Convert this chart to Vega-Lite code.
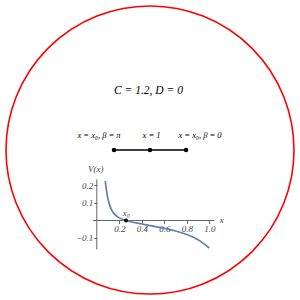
{
  "$schema": "https://vega.github.io/schema/vega-lite/v6.json",
  "width": 300,
  "height": 300,
  "padding": 0,
  "autosize": "none",
  "background": "white",
  "config": {"view": {"stroke": null}},
  "datasets": {
    "ring": [{"cx": 150, "cy": 150}],
    "segment": [{"xa": 114, "xb": 186, "y": 150}],
    "nodes": [
      {"x": 114, "y": 150, "lx": 99, "label": "x = x₀, β = π"},
      {"x": 150, "y": 150, "lx": 151.5, "label": "x = 1"},
      {"x": 186, "y": 150, "lx": 200, "label": "x = x₀, β = 0"}
    ],
    "title": [{"x": 148.5, "y": 91, "text": "C = 1.2,  D = 0"}],
    "curve": [
      {"x": 0.075, "v": 0.226},
      {"x": 0.08, "v": 0.2},
      {"x": 0.09, "v": 0.155},
      {"x": 0.1, "v": 0.122},
      {"x": 0.11, "v": 0.097},
      {"x": 0.12, "v": 0.078},
      {"x": 0.135, "v": 0.056},
      {"x": 0.15, "v": 0.042},
      {"x": 0.175, "v": 0.026},
      {"x": 0.2, "v": 0.015},
      {"x": 0.23, "v": 0.006},
      {"x": 0.26, "v": 0.0},
      {"x": 0.3, "v": -0.007},
      {"x": 0.4, "v": -0.02},
      {"x": 0.5, "v": -0.032},
      {"x": 0.6, "v": -0.045},
      {"x": 0.7, "v": -0.06},
      {"x": 0.8, "v": -0.08},
      {"x": 0.9, "v": -0.11},
      {"x": 0.95, "v": -0.132},
      {"x": 1.0, "v": -0.157}
    ],
    "xaxis": [{"xa": -0.035, "xb": 1.045, "v": 0}],
    "yaxis": [{"x": 0, "va": -0.165, "vb": 0.235}],
    "x0": [{"x": 0.26, "v": 0}],
    "plotlabels": [
      {"x": -0.01, "v": 0.295, "text": "V(x)"},
      {"x": 1.11, "v": 0.0, "text": "x"},
      {"x": 0.262, "v": 0.045, "text": "x₀"}
    ]
  },
  "layer": [
    {
      "encoding": {
        "x": {"field": "x", "type": "quantitative", "scale": {"domain": [0, 300]}, "axis": null},
        "y": {"field": "y", "type": "quantitative", "scale": {"domain": [0, 300], "reverse": true}, "axis": null}
      },
      "layer": [
        {
          "data": {"name": "ring"},
          "mark": {"type": "point", "shape": "circle", "size": 82944, "filled": false, "stroke": "#ff0000", "strokeWidth": 1.6, "opacity": 1},
          "encoding": {
            "x": {"field": "cx", "type": "quantitative"},
            "y": {"field": "cy", "type": "quantitative"}
          }
        },
        {
          "data": {"name": "segment"},
          "mark": {"type": "rule", "color": "black", "strokeWidth": 1.5},
          "encoding": {
            "x": {"field": "xa", "type": "quantitative"},
            "x2": {"field": "xb"},
            "y": {"field": "y", "type": "quantitative"}
          }
        },
        {
          "data": {"name": "nodes"},
          "mark": {"type": "point", "shape": "circle", "size": 20, "filled": true, "color": "black", "opacity": 1},
          "encoding": {
            "x": {"field": "x", "type": "quantitative"},
            "y": {"field": "y", "type": "quantitative"}
          }
        },
        {
          "data": {"name": "nodes"},
          "mark": {"type": "text", "font": "Liberation Serif", "fontStyle": "italic", "fontSize": 8.5, "color": "black", "dy": -15},
          "encoding": {
            "x": {"field": "lx", "type": "quantitative"},
            "y": {"field": "y", "type": "quantitative"},
            "text": {"field": "label"}
          }
        },
        {
          "data": {"name": "title"},
          "mark": {"type": "text", "font": "Liberation Serif", "fontStyle": "italic", "fontSize": 11.5, "color": "black"},
          "encoding": {
            "x": {"field": "x", "type": "quantitative"},
            "y": {"field": "y", "type": "quantitative"},
            "text": {"field": "text"}
          }
        }
      ]
    },
    {
      "encoding": {
        "x": {"field": "x", "type": "quantitative", "scale": {"domain": [-0.8604, 1.8062], "nice": false, "zero": false}},
        "y": {"field": "v", "type": "quantitative", "scale": {"domain": [-0.4543, 1.26], "nice": false, "zero": false}}
      },
      "layer": [
        {
          "data": {"name": "xaxis"},
          "mark": {"type": "rule", "color": "#666666", "strokeWidth": 1},
          "encoding": {
            "x": {"field": "xa", "type": "quantitative"},
            "x2": {"field": "xb"},
            "y": {"field": "v", "type": "quantitative"}
          }
        },
        {
          "data": {"name": "yaxis"},
          "mark": {"type": "rule", "color": "#666666", "strokeWidth": 1},
          "encoding": {
            "x": {"field": "x", "type": "quantitative"},
            "y": {"field": "va", "type": "quantitative"},
            "y2": {"field": "vb"}
          }
        },
        {
          "data": {"name": "curve"},
          "mark": {"type": "line", "color": "#5E81B5", "strokeWidth": 1.7, "interpolate": "monotone"},
          "encoding": {
            "x": {"field": "x", "type": "quantitative",
              "axis": {"values": [0.2, 0.4, 0.6, 0.8, 1.0], "format": ".1f", "domain": false, "grid": false, "offset": -79.5, "tickSize": 3, "tickColor": "#666666", "labelFont": "Liberation Serif", "labelFontStyle": "italic", "labelFontSize": 9, "labelColor": "#444444", "labelPadding": 1, "title": null}},
            "y": {"field": "v", "type": "quantitative",
              "axis": {"values": [-0.1, 0.1, 0.2], "format": ".1f", "domain": false, "grid": false, "offset": -96.8, "tickSize": 3, "tickColor": "#666666", "labelFont": "Liberation Serif", "labelFontStyle": "italic", "labelFontSize": 9, "labelColor": "#444444", "labelPadding": 1, "title": null}}
          }
        },
        {
          "data": {"name": "x0"},
          "mark": {"type": "point", "shape": "circle", "size": 16, "filled": true, "color": "black", "opacity": 1},
          "encoding": {
            "x": {"field": "x", "type": "quantitative"},
            "y": {"field": "v", "type": "quantitative"}
          }
        },
        {
          "data": {"name": "plotlabels"},
          "mark": {"type": "text", "font": "Liberation Serif", "fontStyle": "italic", "fontSize": 9, "color": "#444444"},
          "encoding": {
            "x": {"field": "x", "type": "quantitative"},
            "y": {"field": "v", "type": "quantitative"},
            "text": {"field": "text"}
          }
        }
      ]
    }
  ],
  "resolve": {"scale": {"x": "independent", "y": "independent"}}
}
